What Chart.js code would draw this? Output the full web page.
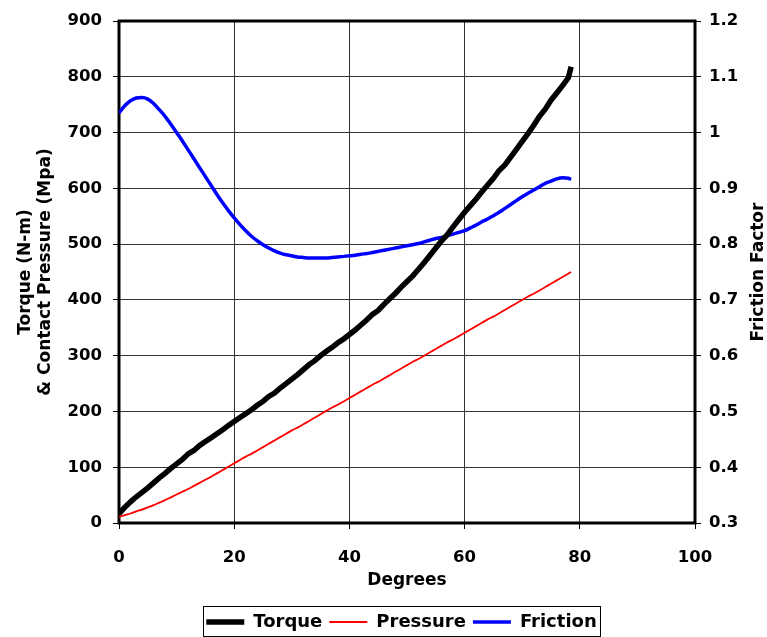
<!DOCTYPE html>
<html>
<head>
<meta charset="utf-8">
<script src="https://cdn.jsdelivr.net/npm/chart.js@4.4.1/dist/chart.umd.min.js"></script>
<style>
  html, body { margin: 0; padding: 0; background: #ffffff; }
  #c { display: block; }
</style>
</head>
<body>
<canvas id="c" width="767" height="637"></canvas>
<script>
// Rotation angle (degrees) at which each sample was taken
const degrees = [
  0, 1, 2, 3, 4, 5, 6, 7, 8, 9,
  10, 11, 12, 13, 14, 15, 16, 17, 18, 19,
  20, 21, 22, 23, 24, 25, 26, 27, 28, 29,
  30, 31, 32, 33, 34, 35, 36, 37, 38, 39,
  40, 41, 42, 43, 44, 45, 46, 47, 48, 49,
  50, 51, 52, 53, 54, 55, 56, 57, 58, 59,
  60, 61, 62, 63, 64, 65, 66, 67, 68, 69,
  70, 71, 72, 73, 74, 75, 76, 77, 78, 78.5
];

// Torque (N-m)
const torque = [
  17, 28, 38, 47, 55, 63, 72, 81, 89, 98,
  106, 114, 124, 130, 139, 146, 153, 160, 167, 175,
  182, 189, 196, 203, 211, 218, 227, 233, 242, 250,
  258, 266, 275, 284, 291, 300, 308, 315, 323, 330,
  338, 346, 355, 364, 374, 381, 392, 402, 412, 423,
  433, 443, 455, 467, 480, 493, 506, 517, 531, 544,
  557, 569, 581, 594, 606, 618, 632, 642, 656, 670,
  684, 698, 713, 729, 742, 758, 771, 784, 798, 818
];

// Contact pressure (MPa)
const pressure = [
  11, 14, 17, 21, 24, 28, 32, 36.5, 41, 46,
  51, 56, 61, 66.5, 72, 77.5, 83, 89, 95, 101,
  107, 113, 119, 124, 130, 136, 142, 148, 154, 160,
  166, 171, 177, 183, 189, 195, 201, 207, 212, 218,
  224, 230, 236, 242, 248, 253, 259, 265, 271, 277,
  283, 289, 294, 300, 306, 312, 318, 324, 329, 335,
  341, 347, 353, 359, 365, 370, 376, 382, 388, 394,
  400, 406, 411, 417, 423, 429, 435, 441, 447, 450
];

// Friction factor (right axis)
const friction = [
  1.035, 1.048, 1.057, 1.062, 1.063, 1.060, 1.052, 1.041, 1.029, 1.015,
  1.000, 0.985, 0.969, 0.953, 0.937, 0.921, 0.905, 0.889, 0.874, 0.860,
  0.847, 0.835, 0.824, 0.814, 0.806, 0.799, 0.793, 0.788, 0.784, 0.781,
  0.779, 0.777, 0.776, 0.775, 0.775, 0.775, 0.775, 0.776, 0.777, 0.778,
  0.779, 0.780, 0.782, 0.783, 0.785, 0.787, 0.789, 0.791, 0.793, 0.795,
  0.797, 0.799, 0.801, 0.804, 0.807, 0.810, 0.812, 0.815, 0.818, 0.821,
  0.824, 0.829, 0.834, 0.840, 0.845, 0.851, 0.857, 0.864, 0.871, 0.878,
  0.885, 0.891, 0.897, 0.903, 0.909, 0.913, 0.917, 0.919, 0.918, 0.916
];

// Axis tick values
const degreeTicks = [0, 20, 40, 60, 80, 100];
const stressTicks = [0, 100, 200, 300, 400, 500, 600, 700, 800, 900];
const frictionTicks = ['0.3', '0.4', '0.5', '0.6', '0.7', '0.8', '0.9', '1', '1.1', '1.2'];

const FONT = 'DejaVu Sans';
const tickFont = { family: FONT, size: 16.5, weight: 'bold' };
const titleFont = { family: FONT, size: 17, weight: 'bold' };

const toPoints = ys => degrees.map((d, i) => ({ x: d, y: ys[i] }));

// Thick frame around the plot area
const plotFrame = {
  id: 'plotFrame',
  beforeDatasetsDraw(chart) {
    const { ctx, chartArea: a } = chart;
    ctx.save();
    ctx.strokeStyle = '#000';
    ctx.lineWidth = 3;
    ctx.strokeRect(a.left, a.top, a.right - a.left, a.bottom - a.top);
    ctx.restore();
  }
};

// Legend sits a little right of centre and low, inside a thin box
const legendBox = {
  id: 'legendBox',
  afterLayout(chart) {
    const lg = chart.legend;
    lg.left += 36;
    lg.top += 4;
    lg.bottom += 4;
  },
  afterDraw(chart) {
    const lg = chart.legend;
    const pad = lg.options.labels.padding;
    const lw = lg.lineWidths[0];
    const startX = (lg.left + pad + lg.right - lw) / 2;
    const endX = startX + lw - pad;
    const cy = lg.top + pad + 9;
    const ctx = chart.ctx;
    ctx.save();
    ctx.strokeStyle = '#000';
    ctx.lineWidth = 1;
    ctx.strokeRect(Math.round(startX - 3) + 0.5, Math.round(cy - 16) + 0.5,
                   Math.round(endX - startX + 7), 30);
    ctx.restore();
  }
};

// Right-hand axis title, reading bottom to top
const rightTitle = {
  id: 'rightTitle',
  afterDraw(chart) {
    const { ctx, chartArea: a } = chart;
    ctx.save();
    ctx.translate(759, (a.top + a.bottom) / 2);
    ctx.rotate(-Math.PI / 2);
    ctx.font = `bold ${titleFont.size}px "${FONT}"`;
    ctx.fillStyle = '#000';
    ctx.textAlign = 'center';
    ctx.textBaseline = 'middle';
    ctx.fillText('Friction Factor', 0, 0);
    ctx.restore();
  }
};

new Chart(document.getElementById('c'), {
  type: 'line',
  data: {
    datasets: [
      {
        label: 'Torque',
        data: toPoints(torque),
        borderColor: '#000000',
        backgroundColor: '#000000',
        borderWidth: 5.5,
        pointRadius: 0,
        tension: 0,
        yAxisID: 'y'
      },
      {
        label: 'Pressure',
        data: toPoints(pressure),
        borderColor: '#ff0000',
        backgroundColor: '#ff0000',
        borderWidth: 1.8,
        pointRadius: 0,
        cubicInterpolationMode: 'monotone',
        yAxisID: 'y'
      },
      {
        label: 'Friction',
        data: toPoints(friction),
        borderColor: '#0000ff',
        backgroundColor: '#0000ff',
        borderWidth: 3.5,
        pointRadius: 0,
        cubicInterpolationMode: 'monotone',
        yAxisID: 'y1'
      }
    ]
  },
  options: {
    responsive: false,
    animation: false,
    devicePixelRatio: 1,
    layout: { padding: { top: 21, left: 0, right: 0, bottom: 0 } },
    plugins: {
      legend: {
        position: 'bottom',
        labels: {
          usePointStyle: true,
          pointStyle: 'line',
          pointStyleWidth: 38,
          padding: 7,
          color: '#000',
          font: { family: FONT, size: 18, weight: 'bold' }
        }
      },
      tooltip: { enabled: false }
    },
    scales: {
      x: {
        type: 'linear',
        min: 0,
        max: 100,
        afterBuildTicks: s => { s.ticks = degreeTicks.map(v => ({ value: v })); },
        afterFit: s => { s.height = 79; },
        grid: { color: '#333', lineWidth: 1, tickLength: 6, tickColor: '#000' },
        border: { display: false },
        ticks: { color: '#000', font: tickFont, padding: 19, maxRotation: 0, autoSkip: false },
        title: { display: true, text: 'Degrees', color: '#000', font: titleFont, padding: { top: 0, bottom: 11 } }
      },
      y: {
        position: 'left',
        min: 0,
        max: 900,
        afterBuildTicks: s => { s.ticks = stressTicks.map(v => ({ value: v })); },
        afterFit: s => { s.width = 119; },
        grid: { color: '#333', lineWidth: 1, tickLength: 6, tickColor: '#000' },
        border: { display: false },
        ticks: { color: '#000', font: tickFont, padding: 11, autoSkip: false },
        title: {
          display: true,
          text: ['Torque (N-m)', '& Contact Pressure (Mpa)'],
          color: '#000',
          font: titleFont,
          padding: { top: 15, bottom: 0 }
        }
      },
      y1: {
        position: 'right',
        min: 0.3,
        max: 1.2,
        afterBuildTicks: s => { s.ticks = frictionTicks.map(v => ({ value: parseFloat(v) })); },
        afterFit: s => { s.width = 72; },
        grid: { drawOnChartArea: false, tickLength: 6, tickColor: '#000' },
        border: { display: false },
        ticks: {
          color: '#000',
          font: tickFont,
          padding: 8,
          autoSkip: false,
          callback: (v, i) => frictionTicks[i]
        }
      }
    }
  },
  plugins: [plotFrame, legendBox, rightTitle]
});
</script>
</body>
</html>
